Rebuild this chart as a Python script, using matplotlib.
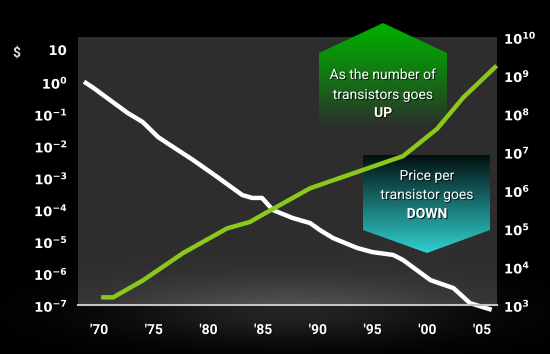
import matplotlib.pyplot as plt
import matplotlib.patheffects as pe
from matplotlib.patches import Polygon
import numpy as np

plt.rcParams['font.family'] = ['Roboto', 'DejaVu Sans']
plt.rcParams['mathtext.fontset'] = 'dejavusans'

# price per transistor ($)
price_years = [1968.8, 1969.5, 1972.6, 1974.0, 1975.4, 1976.5, 1978.6, 1980.8,
               1983.1, 1984.0, 1984.9, 1985.9, 1987.7, 1989.3, 1990.2, 1991.4,
               1993.6, 1995.0, 1996.9, 1997.8, 2000.3, 2002.4, 2003.3, 2003.9,
               2005.7]
price_log = [-0.03, -0.19, -0.97, -1.26, -1.73, -1.98, -2.45, -2.98,
             -3.55, -3.64, -3.64, -4.02, -4.27, -4.43, -4.65, -4.90,
             -5.21, -5.34, -5.43, -5.59, -6.22, -6.47, -6.75, -6.94,
             -7.13]

# number of transistors
count_years = [1970.4, 1971.3, 1974.0, 1977.7, 1981.7, 1983.8, 1985.4, 1989.3,
               1997.8, 2000.9, 2003.3, 2006.2]
count_log = [3.20, 3.20, 3.64, 4.36, 5.00, 5.17, 5.43, 6.05,
             6.89, 7.60, 8.42, 9.21]

year_ticks = [1970, 1975, 1980, 1985, 1990, 1995, 2000, 2005]
year_labels = ["'70", "'75", "'80", "'85", "'90", "'95", "'00", "'05"]
left_exp = [-7, -6, -5, -4, -3, -2, -1, 0, 1]
right_exp = [3, 4, 5, 6, 7, 8, 9, 10]

W, H = 550, 354
fig = plt.figure(figsize=(5.5, 3.54), dpi=100, facecolor='black')

# background in pixel coordinates
bg = fig.add_axes([0, 0, 1, 1], zorder=0)
bg.axis('off')
xx, yy = np.meshgrid(np.arange(W) + 0.5, np.arange(H) + 0.5)
img = np.zeros((H, W))
inside = (xx > 78) & (xx < 497) & (yy > 37) & (yy < 305)
img[inside] = 0.18
img += 0.14 * np.exp(-((xx - 290) / 170) ** 2 - ((yy - 312) / 30) ** 2)
img = np.clip(img, 0, 1)
bg.imshow(np.dstack([img, img, img]), extent=[0, W, H, 0], aspect='auto',
          interpolation='bilinear')


# callout shapes with gradient fills
def callout(pts, top_col, bot_col, power):
    ys = [p[1] for p in pts]
    xs = [p[0] for p in pts]
    t = np.linspace(0, 1, 200)[:, None] ** power
    top_col = np.array(top_col)
    bot_col = np.array(bot_col)
    grad = top_col[None, None, :] * (1 - t[:, :, None]) + bot_col[None, None, :] * t[:, :, None]
    grad = np.repeat(grad, 2, axis=1)
    im = bg.imshow(grad, extent=[min(xs), max(xs), max(ys), min(ys)], aspect='auto')
    poly = Polygon(pts, closed=True, facecolor='none', edgecolor='none')
    bg.add_patch(poly)
    im.set_clip_path(poly)


callout([(383, 23), (447, 53), (447, 127), (319, 127), (319, 53)],
        (0.0, 0.68, 0.0), (0.17, 0.18, 0.17), 1.2)
callout([(363, 155), (490, 155), (490, 230), (427, 253), (363, 230)],
        (0.01, 0.06, 0.06), (0.19, 0.82, 0.82), 1.0)
bg.set_xlim(0, W)
bg.set_ylim(H, 0)

# data axes
ax = fig.add_axes([78 / W, (H - 305) / H, 419 / W, 268 / H], zorder=1)
ax.patch.set_visible(False)
ax.plot(price_years, [10 ** v for v in price_log], color='white', lw=3.2,
        solid_joinstyle='round', clip_on=False)
ax.set_yscale('log')
ax.set_xlim(1968.08, 2006.38)
ax.set_ylim(1e-7, 10 ** 1.41)
ax.set_yticks([10.0 ** e for e in left_exp])
ax.set_yticklabels([r'$\mathbf{10^{%d}}$' % e for e in left_exp[:-1]] + [r'$\mathbf{10}$'])
ax.yaxis.set_minor_locator(plt.NullLocator())
ax.set_xticks(year_ticks)
ax.set_xticklabels(year_labels, fontweight='bold')
ax.tick_params(axis='x', length=0, pad=13, labelsize=10, colors='white')
ax.tick_params(axis='y', length=0, pad=7, labelsize=9.5, colors='white')
for s in ['top', 'left', 'right']:
    ax.spines[s].set_visible(False)
ax.spines['bottom'].set_color('#c4c4c4')
ax.spines['bottom'].set_linewidth(1.5)

ax2 = ax.twinx()
ax2.patch.set_visible(False)
ax2.plot(count_years, [10 ** v for v in count_log], color='#8cc71e', lw=3.2,
         solid_joinstyle='round', clip_on=False)
ax2.set_yscale('log')
ax2.set_ylim(1e3, 10 ** 9.85)
ax2.set_yticks([10.0 ** e for e in right_exp])
ax2.set_yticklabels([r'$\mathbf{10^{%d}}$' % e for e in right_exp])
ax2.yaxis.set_minor_locator(plt.NullLocator())
ax2.tick_params(axis='y', length=0, pad=5, labelsize=9.5, colors='white')
for s in ax2.spines.values():
    s.set_visible(False)

shadow = [pe.withSimplePatchShadow(offset=(0.8, -0.8), shadow_rgbFace='black', alpha=0.7)]
for lab in ax.get_xticklabels() + ax.get_yticklabels() + ax2.get_yticklabels():
    lab.set_path_effects(shadow)


def ftext(x, y, s, color='white', **kw):
    fig.text(x / W, 1 - y / H, s, color=color, ha='center', va='center',
             path_effects=shadow, **kw)


ftext(17, 53, r'\$', fontsize=10, fontweight='bold', color='#dddddd')
ftext(383, 75, 'As the number of', fontsize=10)
ftext(383, 95, 'transistors goes', fontsize=10)
ftext(383, 113, 'UP', fontsize=10, fontweight='bold')
ftext(427, 176, 'Price per', fontsize=10)
ftext(427, 195, 'transistor goes', fontsize=10)
ftext(427, 214, 'DOWN', fontsize=10, fontweight='bold')

fig.savefig('out.png', dpi=100, facecolor='black')
